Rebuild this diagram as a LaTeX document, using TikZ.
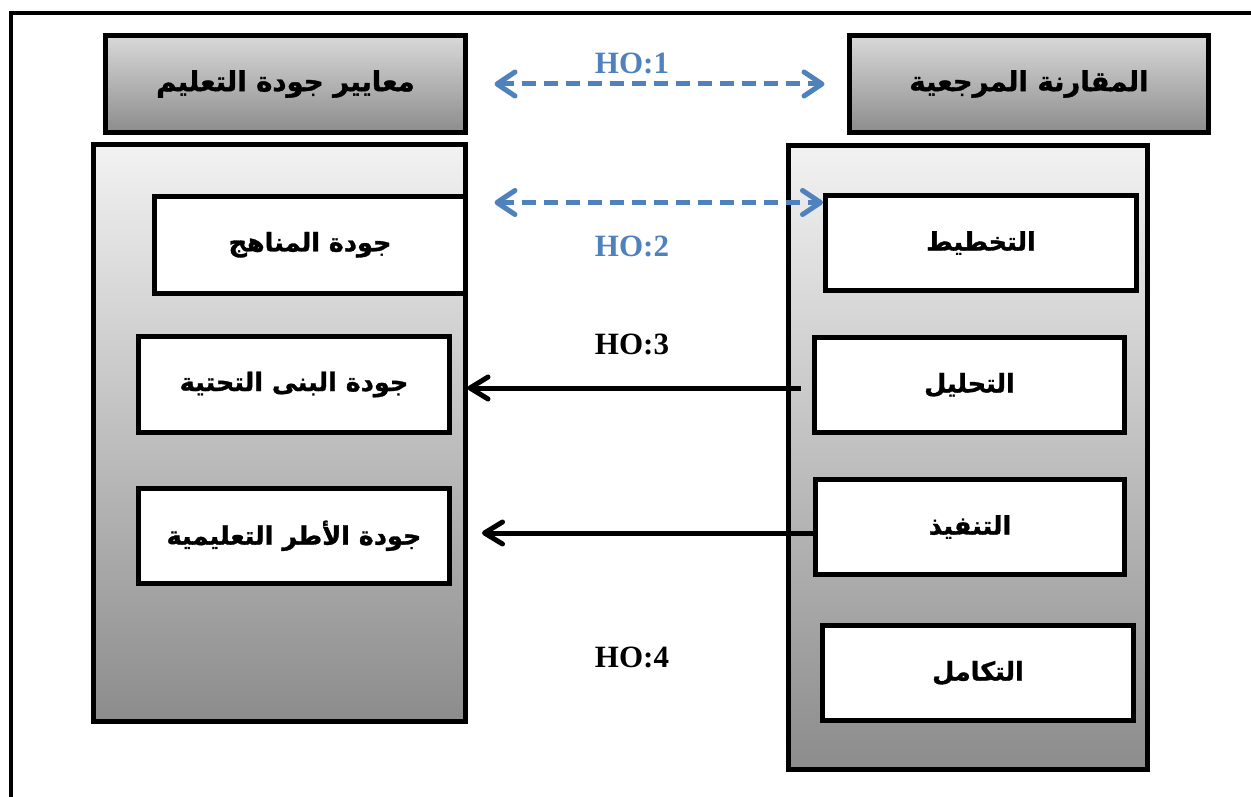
\documentclass[tikz,border=0pt]{standalone}
\usepackage{fontspec}
\setmainfont{Liberation Serif}
\newfontfamily\arabicfont[Script=Arabic, FakeBold=1.2]{DejaVu Sans}
\TeXXeTstate=1
\usetikzlibrary{arrows.meta,calc}

\definecolor{linkblue}{HTML}{4F81BD}
\definecolor{shadetop}{HTML}{F2F2F2}
\definecolor{shadebot}{HTML}{8C8C8C}
\definecolor{headtop}{HTML}{D9D9D9}

\tikzset{
  boxline/.style={draw=black, line width=5pt, rectangle, inner sep=0pt},
  headbox/.style={boxline, top color=headtop, bottom color=shadebot,
    minimum width=360pt, minimum height=97pt,
    font=\arabicfont\bfseries\fontsize{27.5}{32}\selectfont},
  panel/.style={boxline, top color=shadetop, bottom color=shadebot},
  itembox/.style={boxline, fill=white, minimum width=311pt, minimum height=95pt,
    font=\arabicfont\bfseries\fontsize{25.5}{30}\selectfont},
  twoway/.style={draw=linkblue, line width=5pt, dash pattern=on 14pt off 8pt,
    {Straight Barb[length=18pt,width=24pt,round]}-{Straight Barb[length=18pt,width=24pt,round]}},
  oneway/.style={draw=black, line width=5pt,
    -{Straight Barb[length=18pt,width=22pt,round]}},
  holabel/.style={font=\bfseries\fontsize{31}{36}\selectfont, inner sep=0pt},
}

\newcommand{\ar}[1]{\beginR #1\endR}

\begin{document}
\begin{tikzpicture}[x=1pt,y=-1pt]
  \useasboundingbox (0,0) rectangle (1251,797);
  \clip (0,0) rectangle (1251,797);

  % outer frame (runs past the right and bottom edges)
  \draw[line width=4pt] (11,13) rectangle (1300,850);

  % column headers
  \node[headbox] (lhead) at (285.5,84) {\ar{معايير جودة التعليم}};
  \node[headbox, minimum width=359pt] (rhead) at (1029,84) {\ar{المقارنة المرجعية}};

  % column panels
  \node[panel, minimum width=372pt, minimum height=576pt] (lpanel) at (279,433) {};
  \node[panel, minimum width=359pt, minimum height=623pt] (rpanel) at (967.5,457.5) {};

  % left column items
  \node[itembox, minimum height=96.5pt] (manahij) at (310,244.75) {\ar{جودة المناهج}};
  \node[itembox, minimum height=96pt] (bunya) at (294,384.5) {\ar{جودة البنى التحتية}};
  \node[itembox, minimum height=94.5pt] (utur) at (294,535.75) {\ar{جودة الأطر التعليمية}};

  % right column items
  \node[itembox] (takhtit) at (981,243) {\ar{التخطيط}};
  \node[itembox, minimum width=310pt] (tahlil) at (969.5,385) {\ar{التحليل}};
  \node[itembox, minimum width=309pt] (tanfidh) at (970,527) {\ar{التنفيذ}};
  \node[itembox] (takamul) at (978,673) {\ar{التكامل}};

  % connectors
  \draw[twoway] ($(lhead.east)+(26.5,0)$) -- ($(rhead.west)+(-22.5,0)$);
  \coordinate (h2end) at ($(manahij.north east)+(26.5,8.5)$);
  \draw[twoway] (h2end) -- (takhtit.west |- h2end);
  \coordinate (h3start) at ($(tahlil.west)+(-11.5,3)$);
  \draw[oneway] (h3start) -- (h3start -| lpanel.east);
  \draw[oneway] ($(tanfidh.west)+(0,6)$) -- ($(utur.east)+(30,-2.75)$);

  % hypothesis labels
  \node[holabel, text=linkblue] (ho1) at (632,63) {HO:1};
  \node[holabel, text=linkblue] (ho2) at (632,246) {HO:2};
  \node[holabel] (ho3) at (632,344) {HO:3};
  \node[holabel] (ho4) at (632,657) {HO:4};
\end{tikzpicture}
\end{document}
